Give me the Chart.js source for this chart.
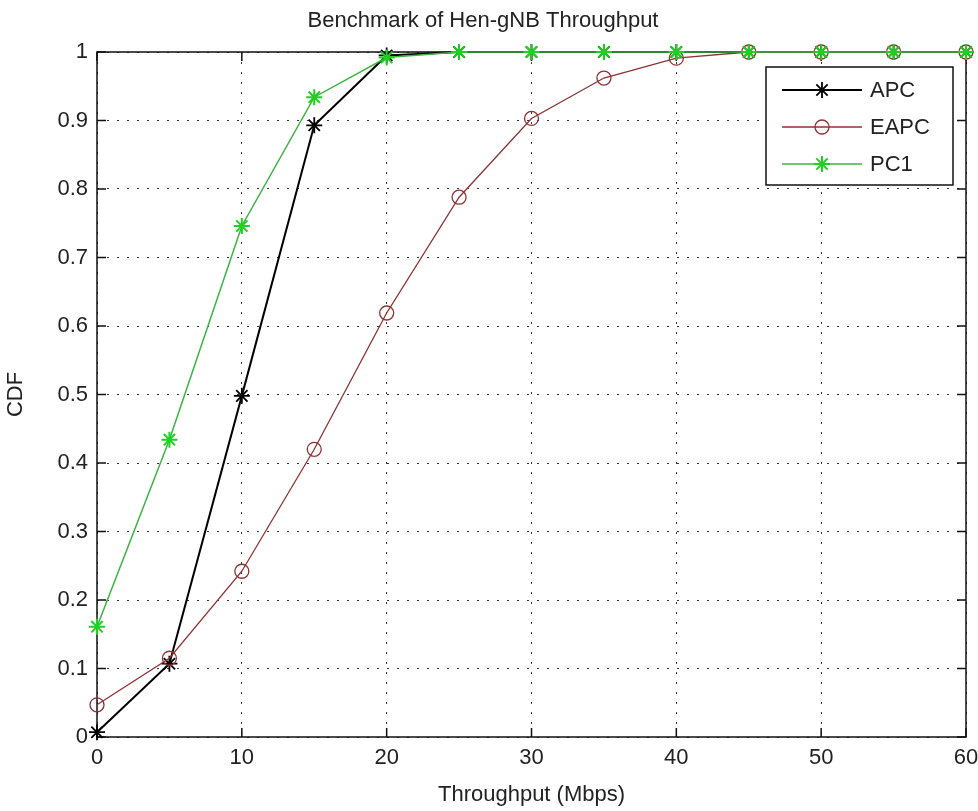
<!DOCTYPE html>
<html><head><meta charset="utf-8">
<script src="https://cdn.jsdelivr.net/npm/chart.js@4.4.0/dist/chart.umd.min.js"></script>
<style>html,body{margin:0;padding:0;background:#fff;overflow:hidden}canvas{display:block}</style>
</head><body>
<canvas id="c" width="978" height="811"></canvas>
<script>
// ---- data ----
const throughput = [0, 5, 10, 15, 20, 25, 30, 35, 40, 45, 50, 55, 60];
const apc  = [0.007, 0.107, 0.498, 0.893, 0.995, 1, 1, 1, 1, 1, 1, 1, 1];
const eapc = [0.047, 0.115, 0.242, 0.420, 0.619, 0.788, 0.903, 0.962, 0.991, 1, 1, 1, 1];
const pc1  = [0.161, 0.434, 0.746, 0.934, 0.992, 1, 1, 1, 1, 1, 1, 1, 1];
const seriesNames = ['APC', 'EAPC', 'PC1'];
const xTickValues = [0, 10, 20, 30, 40, 50, 60];
const yTickValues = [0, 0.1, 0.2, 0.3, 0.4, 0.5, 0.6, 0.7, 0.8, 0.9, 1];
const yTickLabels = ['0', '0.1', '0.2', '0.3', '0.4', '0.5', '0.6', '0.7', '0.8', '0.9', '1'];
const chartTitle = 'Benchmark of Hen-gNB Throughput';
const xTitle = 'Throughput (Mbps)';
const yTitle = 'CDF';

const FONT = '"Liberation Sans", Arial, sans-serif';
const TXT = '#222';
const pts = arr => throughput.map((x, i) => ({x: x, y: arr[i]}));

const frame = {
  id: 'frame',
  beforeDatasetsDraw(chart) {
    const {ctx, chartArea: a, scales: {x, y}} = chart;
    ctx.save();
    ctx.strokeStyle = '#111';
    ctx.lineWidth = 1.5;
    ctx.strokeRect(a.left, a.top, a.right - a.left, a.bottom - a.top);
    ctx.beginPath();
    const L = 9;
    x.ticks.forEach(t => {
      const p = x.getPixelForValue(t.value);
      ctx.moveTo(p, a.bottom); ctx.lineTo(p, a.bottom - L);
      ctx.moveTo(p, a.top); ctx.lineTo(p, a.top + L);
    });
    y.ticks.forEach(t => {
      const p = y.getPixelForValue(t.value);
      ctx.moveTo(a.left, p); ctx.lineTo(a.left + L, p);
      ctx.moveTo(a.right, p); ctx.lineTo(a.right - L, p);
    });
    ctx.stroke();
    ctx.restore();
  }
};

const matLegend = {
  id: 'matLegend',
  afterDatasetsDraw(chart) {
    const {ctx, chartArea: a} = chart;
    const w = 187, h = 118;
    const bx = a.right - 13 - w, by = a.top + 15;
    ctx.save();
    ctx.fillStyle = '#fff';
    ctx.fillRect(bx, by, w, h);
    ctx.strokeStyle = '#111';
    ctx.lineWidth = 1.5;
    ctx.strokeRect(bx, by, w, h);
    const rows = [23, 60, 97];
    chart.data.datasets.forEach((ds, i) => {
      const cy = by + rows[i];
      ctx.beginPath();
      ctx.strokeStyle = ds.borderColor;
      ctx.lineWidth = ds.borderWidth;
      ctx.moveTo(bx + 16, cy); ctx.lineTo(bx + 96, cy);
      ctx.stroke();
      ctx.strokeStyle = ds.pointBorderColor;
      ctx.fillStyle = 'rgba(0,0,0,0)';
      ctx.lineWidth = ds.pointBorderWidth;
      Chart.helpers.drawPoint(ctx, {pointStyle: ds.pointStyle, radius: ds.pointRadius, borderWidth: ds.pointBorderWidth, rotation: 0}, bx + 56, cy);
      ctx.fillStyle = TXT;
      ctx.font = '22px ' + FONT;
      ctx.textBaseline = 'middle';
      ctx.textAlign = 'left';
      ctx.fillText(ds.label, bx + 104, cy + 1);
    });
    ctx.restore();
  }
};

new Chart(document.getElementById('c'), {
  type: 'line',
  data: {
    datasets: [
      {label: seriesNames[0], data: pts(apc), borderColor: '#000', borderWidth: 2,
       pointStyle: 'star', pointRadius: 8, pointBorderColor: '#000', pointBorderWidth: 1.8,
       pointBackgroundColor: 'rgba(0,0,0,0)', order: 2, clip: false},
      {label: seriesNames[1], data: pts(eapc), borderColor: '#8e3232', borderWidth: 1.3,
       pointStyle: 'circle', pointRadius: 7, pointBorderColor: '#8e3232', pointBorderWidth: 1.3,
       pointBackgroundColor: 'rgba(0,0,0,0)', order: 1, clip: false},
      {label: seriesNames[2], data: pts(pc1), borderColor: '#3cb443', borderWidth: 1.5,
       pointStyle: 'star', pointRadius: 8, pointBorderColor: '#1fd11f', pointBorderWidth: 2,
       pointBackgroundColor: 'rgba(0,0,0,0)', order: 0, clip: false}
    ]
  },
  options: {
    responsive: false,
    animation: false,
    events: [],
    layout: {padding: {left: 0, right: 12, top: 0, bottom: 0}},
    plugins: {
      legend: {display: false},
      tooltip: {enabled: false},
      title: {display: true, text: chartTitle, color: TXT,
              font: {family: FONT, size: 22, weight: 'normal', lineHeight: 1.2},
              padding: {top: 8, bottom: 17.6}}
    },
    scales: {
      x: {
        type: 'linear', min: 0, max: 60,
        afterBuildTicks: s => { s.ticks = xTickValues.map(v => ({value: v})); },
        afterFit: s => { s.height = 74; s.paddingLeft = 0; s.paddingRight = 0; },
        ticks: {color: TXT, font: {family: FONT, size: 22}, padding: 8, maxRotation: 0},
        grid: {color: '#333', lineWidth: 1, drawTicks: false},
        border: {display: false, dash: [2, 8]},
        title: {display: true, text: xTitle, color: TXT, font: {family: FONT, size: 22}, padding: {top: 0, bottom: 3}}
      },
      y: {
        type: 'linear', min: 0, max: 1,
        afterBuildTicks: s => { s.ticks = yTickValues.map(v => ({value: v})); },
        afterFit: s => { s.width = 97; s.paddingTop = 0; s.paddingBottom = 0; },
        ticks: {color: TXT, font: {family: FONT, size: 22}, padding: 9,
                callback: (v, i) => yTickLabels[yTickValues.indexOf(v)] ?? String(v)},
        grid: {color: '#333', lineWidth: 1, drawTicks: false},
        border: {display: false, dash: [2, 8]},
        title: {display: true, text: yTitle, color: TXT, font: {family: FONT, size: 22}, padding: {top: 3, bottom: 0}}
      }
    }
  },
  plugins: [frame, matLegend]
});
</script>
</body></html>
